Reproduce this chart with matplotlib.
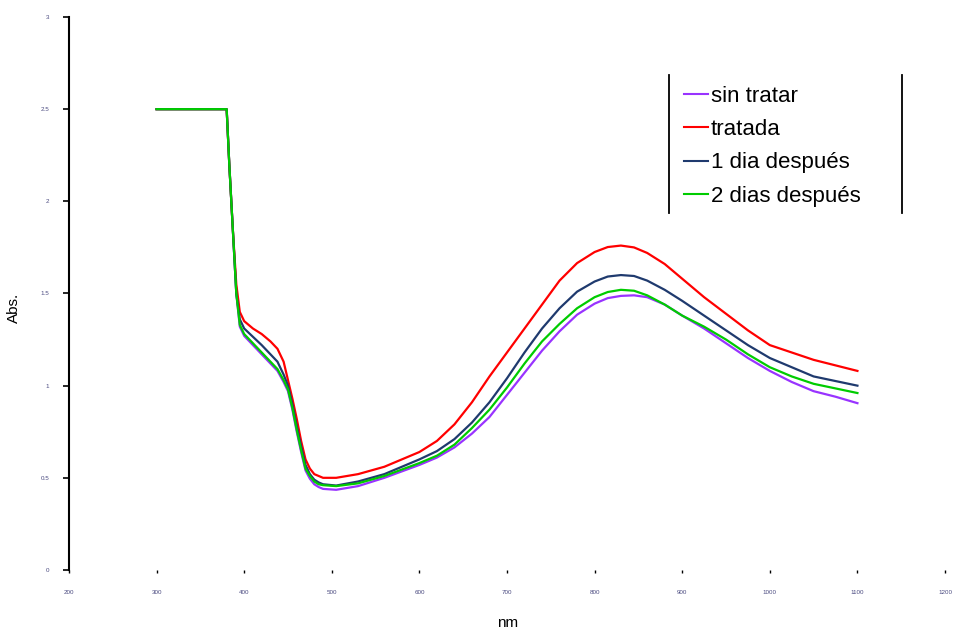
import matplotlib
matplotlib.use("Agg")
import matplotlib.pyplot as plt
from matplotlib.lines import Line2D

plt.rcParams['font.family'] = ['Liberation Sans', 'DejaVu Sans']

# longitud de onda (nm) y absorbancia de cada muestra
nm = [300, 380, 383, 387, 391, 395, 400, 410, 420, 430, 438, 445, 450, 455,
      460, 465, 470, 475, 480, 485, 490, 505, 530, 560, 600, 620, 640, 660,
      680, 700, 720, 740, 760, 780, 800, 815, 830, 845, 860, 880, 900, 925,
      950, 975, 1000, 1025, 1050, 1075, 1100]
tratada = [2.5, 2.5, 2.2, 1.85, 1.55, 1.40, 1.35, 1.31, 1.28, 1.24, 1.20,
           1.13, 1.03, 0.93, 0.82, 0.70, 0.60, 0.55, 0.52, 0.51, 0.50, 0.50,
           0.52, 0.56, 0.64, 0.70, 0.79, 0.91, 1.05, 1.18, 1.31, 1.44, 1.57,
           1.665, 1.725, 1.752, 1.76, 1.75, 1.72, 1.66, 1.58, 1.48, 1.39,
           1.30, 1.22, 1.18, 1.14, 1.11, 1.08]
dia1 = [2.5, 2.5, 2.2, 1.85, 1.5, 1.36, 1.31, 1.265, 1.22, 1.17, 1.13, 1.06,
        1.0, 0.90, 0.78, 0.67, 0.57, 0.52, 0.49, 0.475, 0.465, 0.458, 0.48,
        0.52, 0.60, 0.645, 0.71, 0.80, 0.91, 1.04, 1.18, 1.31, 1.42, 1.51,
        1.565, 1.592, 1.60, 1.595, 1.57, 1.52, 1.46, 1.38, 1.30, 1.22, 1.15,
        1.10, 1.05, 1.025, 1.00]
dias2 = [2.5, 2.5, 2.2, 1.85, 1.5, 1.33, 1.28, 1.23, 1.18, 1.13, 1.09, 1.03,
         0.98, 0.88, 0.76, 0.65, 0.55, 0.51, 0.48, 0.465, 0.46, 0.455, 0.47,
         0.51, 0.58, 0.62, 0.68, 0.77, 0.87, 0.99, 1.12, 1.24, 1.335, 1.42,
         1.48, 1.508, 1.52, 1.515, 1.49, 1.44, 1.38, 1.32, 1.25, 1.17, 1.10,
         1.05, 1.01, 0.985, 0.96]
sin_tratar = [2.5, 2.5, 2.2, 1.85, 1.5, 1.32, 1.27, 1.22, 1.17, 1.12, 1.08,
              1.02, 0.97, 0.87, 0.75, 0.64, 0.54, 0.495, 0.465, 0.45, 0.44,
              0.435, 0.455, 0.50, 0.57, 0.61, 0.665, 0.74, 0.83, 0.95, 1.07,
              1.19, 1.295, 1.385, 1.445, 1.475, 1.487, 1.49, 1.48, 1.44, 1.38,
              1.31, 1.23, 1.15, 1.08, 1.02, 0.97, 0.94, 0.905]

series = [("sin tratar", sin_tratar, "#9933ff"),
          ("tratada", tratada, "#ff0000"),
          ("1 dia después", dia1, "#1f3a6e"),
          ("2 dias después", dias2, "#00cc00")]

xticks = [200, 300, 400, 500, 600, 700, 800, 900, 1000, 1100, 1200]
yticks = [0, 0.5, 1, 1.5, 2, 2.5, 3]

fig = plt.figure(figsize=(9.54, 6.35), dpi=100)
ax = fig.add_axes([0.0723, 0.1024, 0.9183, 0.8708])

for lab, y, c in series:
    ax.plot(nm, y, color=c, lw=1.6, label=lab)

ax.set_xlim(200, 1200)
ax.set_ylim(0, 3)
ax.set_xticks(xticks)
ax.set_yticks(yticks)
ax.set_xticklabels([str(v) for v in xticks])
ax.set_yticklabels(["0", "0.5", "1", "1.5", "2", "2.5", "3"])
ax.tick_params(axis='y', direction='out', length=4.3, width=1.2, pad=10,
               labelsize=4.5, labelcolor='#4a4a80')
ax.tick_params(axis='x', direction='out', length=2.5, width=1.0, pad=12,
               labelsize=4.5, labelcolor='#4a4a80')
for s in ("top", "right", "bottom"):
    ax.spines[s].set_visible(False)
ax.spines["left"].set_linewidth(1.5)

ax.set_xlabel("nm", fontsize=11)
ax.set_ylabel("Abs.", fontsize=11)
ax.xaxis.set_label_coords(0.501, -0.083)
ax.yaxis.set_label_coords(-0.055, 0.474)

leg = ax.legend(loc="upper left", bbox_to_anchor=(684 / 954, 1 - 86 / 635),
                bbox_transform=fig.transFigure, frameon=False, fontsize=16,
                handlelength=1.1, handletextpad=0.12, labelspacing=0.55,
                borderaxespad=0, borderpad=0)
for h in leg.get_lines():
    h.set_linewidth(1.5)

# barras verticales del recuadro de la leyenda
fig.add_artist(Line2D([669 / 954, 669 / 954], [1 - 75 / 635, 1 - 213 / 635],
                      color="black", lw=1.3, transform=fig.transFigure))
fig.add_artist(Line2D([902 / 954, 902 / 954], [1 - 75 / 635, 1 - 213 / 635],
                      color="black", lw=1.3, transform=fig.transFigure))

fig.savefig("out.png", dpi=100)
